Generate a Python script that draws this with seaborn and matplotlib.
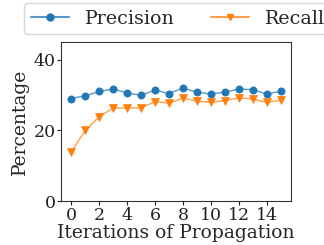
import matplotlib
matplotlib.use("Agg")
import matplotlib.pyplot as plt
import seaborn as sns
import pandas as pd
from matplotlib.colors import to_rgba
from matplotlib.lines import Line2D

iterations = list(range(16))
precision = [29.0, 29.8, 31.0, 31.7, 30.6, 29.9, 31.4, 30.4, 32.0, 30.8, 30.3, 30.8, 31.7, 31.5, 30.3, 31.0]
recall = [14.0, 20.0, 23.9, 26.3, 26.3, 26.4, 28.1, 27.7, 29.1, 28.3, 27.9, 28.4, 29.2, 28.9, 27.9, 28.5]
xticks = [0, 2, 4, 6, 8, 10, 12, 14]
yticks = [0, 20, 40]

sns.set_style("ticks")
plt.rcParams['font.family'] = ['DejaVu Serif']

df = pd.DataFrame({
    "Iteration": iterations * 2,
    "Value": precision + recall,
    "Series": ["Precision"] * 16 + ["Recall"] * 16,
})

cols = ["#1f77b4", "#ff7f0e"]
fig = plt.figure(figsize=(3.24, 2.45), dpi=100)
ax = fig.add_axes([61/324, 1 - 201/245, 230/324, 159/245])
sns.lineplot(data=df, x="Iteration", y="Value", hue="Series", style="Series",
             markers={"Precision": "o", "Recall": "v"}, dashes=False,
             palette=cols, markersize=5.2, linewidth=1.0,
             markeredgewidth=0.5, ax=ax, legend=False)
for line, c in zip(ax.lines, cols):
    line.set_color(to_rgba(c, 0.75))
    line.set_markerfacecolor(c)
    line.set_markeredgecolor(c)

ax.set_ylim(0, 45)
ax.set_xlim(-0.75, 15.75)
ax.set_xticks(xticks)
ax.set_yticks(yticks)
ax.tick_params(labelsize=12.5, pad=1, length=3, colors="#222222")
ax.set_xlabel("Iterations of Propagation", fontsize=13.5, labelpad=0)
ax.set_ylabel("Percentage", fontsize=13.5, labelpad=3)
for s in ax.spines.values():
    s.set_visible(True)
    s.set_color("#333333")

handles = [Line2D([], [], color=to_rgba(cols[0], 0.75), marker="o", markerfacecolor=cols[0], markeredgecolor=cols[0], markersize=5),
           Line2D([], [], color=to_rgba(cols[1], 0.75), marker="v", markerfacecolor=cols[1], markeredgecolor=cols[1], markersize=5)]
fig.legend(handles, ["Precision", "Recall"], ncol=2, loc="upper left",
           bbox_to_anchor=(24/324, 1 - 3/245), borderaxespad=0, fontsize=13.7, frameon=True,
           borderpad=0.35, handlelength=2.0, columnspacing=1.95, handletextpad=0.8)

fig.savefig("out.png", dpi=100)
